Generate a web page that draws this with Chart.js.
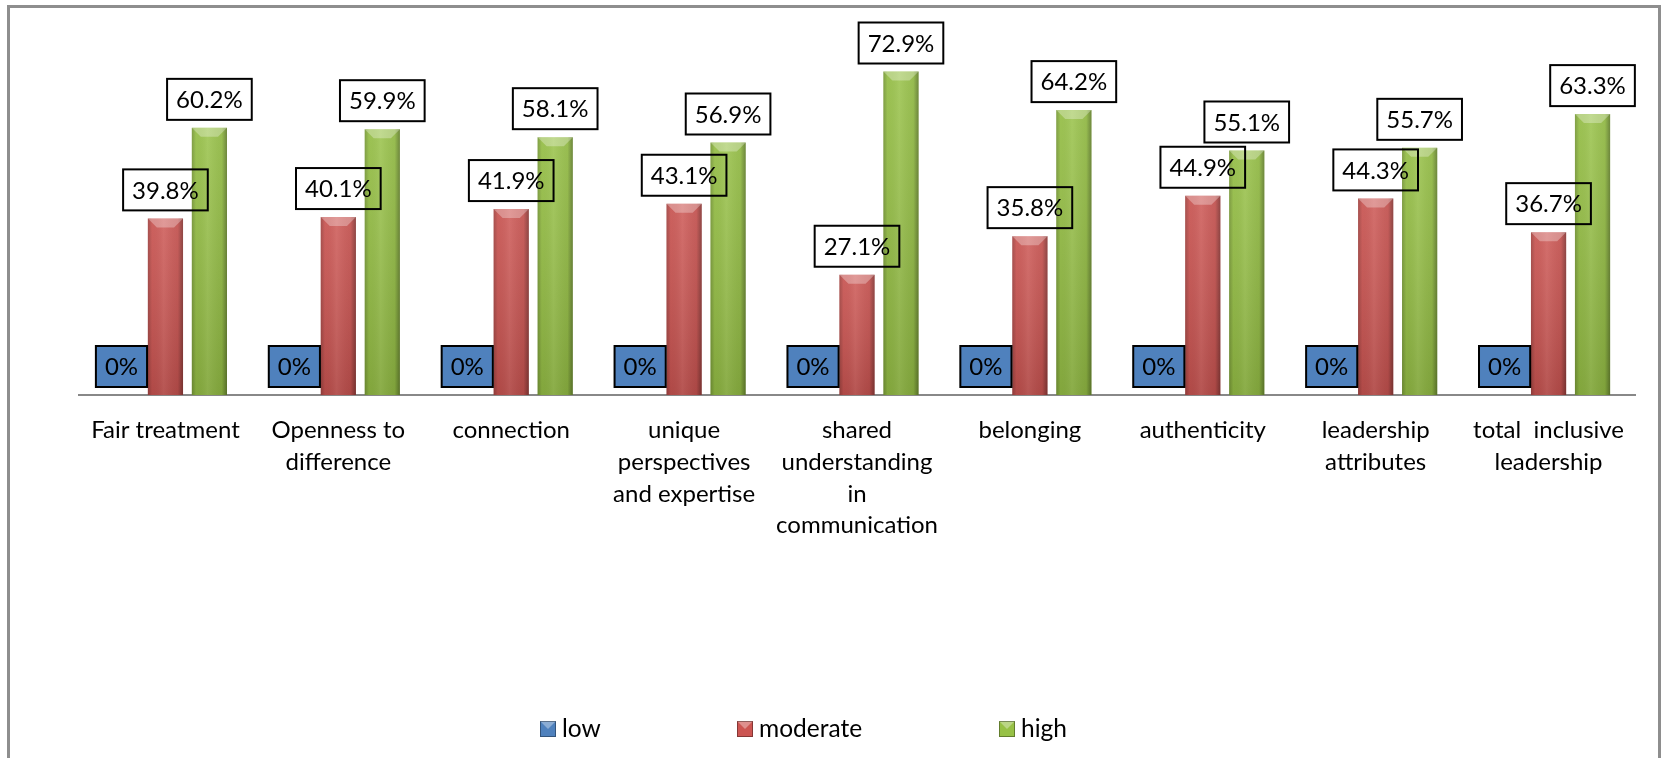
<!DOCTYPE html>
<html>
<head>
    <title>Inclusive Leadership Levels</title>
    <script src="https://cdn.jsdelivr.net/npm/chart.js"></script>
    <style>
        body { margin: 0; background: #fff; }
        #wrap { width: 1664px; height: 758px; }
    </style>
</head>
<body>
    <div id="wrap"><canvas id="levels-chart" width="1664" height="758"></canvas></div>

    <script>
        // Categories (each label split into its lines)
        const categories = [
            ['Fair treatment'],
            ['Openness to', 'difference'],
            ['connection'],
            ['unique', 'perspectives', 'and expertise'],
            ['shared', 'understanding', 'in', 'communication'],
            ['belonging'],
            ['authenticity'],
            ['leadership', 'attributes'],
            ['total  inclusive', 'leadership']
        ];

        // Series values (%)
        const lowValues      = [0, 0, 0, 0, 0, 0, 0, 0, 0];
        const moderateValues = [39.8, 40.1, 41.9, 43.1, 27.1, 35.8, 44.9, 44.3, 36.7];
        const highValues     = [60.2, 59.9, 58.1, 56.9, 72.9, 64.2, 55.1, 55.7, 63.3];

        const seriesNames  = ['low', 'moderate', 'high'];
        const seriesColors = ['#4F81BD', '#CC5552', '#97C146'];

        const FONT = 'Lato, "Open Sans", sans-serif';

        // Frame around the chart (no bottom edge, as in the original)
        const framePlugin = {
            id: 'frame',
            beforeDraw(chart) {
                const ctx = chart.ctx;
                ctx.save();
                ctx.strokeStyle = '#8E8E8E';
                ctx.lineWidth = 3;
                ctx.strokeRect(8.5, 6.5, 1651, 900);
                ctx.restore();
            }
        };

        // Shading to give the bars a bevelled look
        const bevelPlugin = {
            id: 'bevel',
            afterDatasetDraw(chart, args) {
                const ctx = chart.ctx;
                const meta = args.meta;
                meta.data.forEach(bar => {
                    const p = bar.getProps(['x', 'y', 'base', 'width'], true);
                    const h = p.base - p.y;
                    if (h < 2) return;
                    const l = p.x - p.width / 2, r = p.x + p.width / 2;
                    ctx.save();
                    let g = ctx.createLinearGradient(l, 0, r, 0);
                    g.addColorStop(0, 'rgba(0,0,0,0.22)');
                    g.addColorStop(0.12, 'rgba(0,0,0,0.02)');
                    g.addColorStop(0.45, 'rgba(255,255,255,0.08)');
                    g.addColorStop(0.85, 'rgba(0,0,0,0.05)');
                    g.addColorStop(1, 'rgba(0,0,0,0.35)');
                    ctx.fillStyle = g;
                    ctx.fillRect(l, p.y, p.width, h);
                    let gv = ctx.createLinearGradient(0, p.y, 0, p.base);
                    gv.addColorStop(0, 'rgba(255,255,255,0.08)');
                    gv.addColorStop(1, 'rgba(0,0,0,0.12)');
                    ctx.fillStyle = gv;
                    ctx.fillRect(l, p.y, p.width, h);
                    // top bevel
                    const bv = Math.min(9, h / 2);
                    ctx.beginPath();
                    ctx.moveTo(l, p.y);
                    ctx.lineTo(r, p.y);
                    ctx.lineTo(r - bv, p.y + bv);
                    ctx.lineTo(l + bv, p.y + bv);
                    ctx.closePath();
                    ctx.fillStyle = 'rgba(255,255,255,0.3)';
                    ctx.fill();
                    ctx.restore();
                });
            }
        };

        // Boxed value labels above each bar
        const boxLabelPlugin = {
            id: 'boxLabels',
            afterDatasetsDraw(chart) {
                const ctx = chart.ctx;
                ctx.save();
                ctx.font = '24px ' + FONT;
                ctx.textAlign = 'center';
                ctx.textBaseline = 'middle';
                chart.data.datasets.forEach((ds, di) => {
                    const meta = chart.getDatasetMeta(di);
                    meta.data.forEach((bar, i) => {
                        const text = ds.data[i] + '%';
                        const w = ctx.measureText(text).width + 18;
                        const hgt = 41;
                        const bottom = bar.y - 8;
                        const left = bar.x - w / 2;
                        if (di === 0) {
                            ctx.fillStyle = seriesColors[0];
                            ctx.fillRect(left, bottom - hgt, w, hgt);
                        }
                        ctx.strokeStyle = '#000';
                        ctx.lineWidth = 2;
                        ctx.strokeRect(left, bottom - hgt, w, hgt);
                        ctx.fillStyle = '#000';
                        ctx.fillText(text, bar.x, bottom - hgt / 2 + 1);
                    });
                });
                ctx.restore();
            }
        };

        // Legend laid out like the original (left of centre)
        const legendPlugin = {
            id: 'customLegend',
            afterDraw(chart) {
                const ctx = chart.ctx;
                const xs = [540, 737, 999];
                const y = 729;
                const s = 16;
                ctx.save();
                ctx.font = '24.5px ' + FONT;
                ctx.textBaseline = 'middle';
                chart.data.datasets.forEach((ds, i) => {
                    ctx.fillStyle = ds.backgroundColor;
                    ctx.fillRect(xs[i], y - s / 2, s, s);
                    ctx.fillStyle = 'rgba(255,255,255,0.35)';
                    ctx.beginPath();
                    ctx.moveTo(xs[i], y - s / 2);
                    ctx.lineTo(xs[i] + s, y - s / 2);
                    ctx.lineTo(xs[i] + s / 2, y);
                    ctx.closePath();
                    ctx.fill();
                    ctx.strokeStyle = 'rgba(0,0,0,0.35)';
                    ctx.lineWidth = 1;
                    ctx.strokeRect(xs[i] + 0.5, y - s / 2 + 0.5, s - 1, s - 1);
                    ctx.fillStyle = '#000';
                    ctx.fillText(ds.label, xs[i] + s + 6, y);
                });
                ctx.restore();
            }
        };

        const ctx = document.getElementById('levels-chart').getContext('2d');
        new Chart(ctx, {
            type: 'bar',
            data: {
                labels: categories,
                datasets: [
                    { label: seriesNames[0], data: lowValues,      backgroundColor: seriesColors[0] },
                    { label: seriesNames[1], data: moderateValues, backgroundColor: seriesColors[1] },
                    { label: seriesNames[2], data: highValues,     backgroundColor: seriesColors[2] }
                ]
            },
            options: {
                responsive: false,
                animation: false,
                layout: { padding: { left: 79, right: 29, top: 40, bottom: 0 } },
                datasets: {
                    bar: { categoryPercentage: 0.763, barPercentage: 0.8 }
                },
                plugins: {
                    legend: { display: false },
                    tooltip: { enabled: false }
                },
                scales: {
                    x: {
                        grid: { display: false, drawTicks: false },
                        border: { display: true, color: '#888888', width: 2 },
                        ticks: {
                            color: '#000',
                            padding: 19,
                            maxRotation: 0,
                            autoSkip: false,
                            font: { family: FONT, size: 24, lineHeight: 1.33 }
                        },
                        afterFit(scale) { scale.height = 363; }
                    },
                    y: {
                        display: false,
                        min: 0,
                        max: 80
                    }
                }
            },
            plugins: [framePlugin, bevelPlugin, boxLabelPlugin, legendPlugin]
        });
    </script>
</body>
</html>
